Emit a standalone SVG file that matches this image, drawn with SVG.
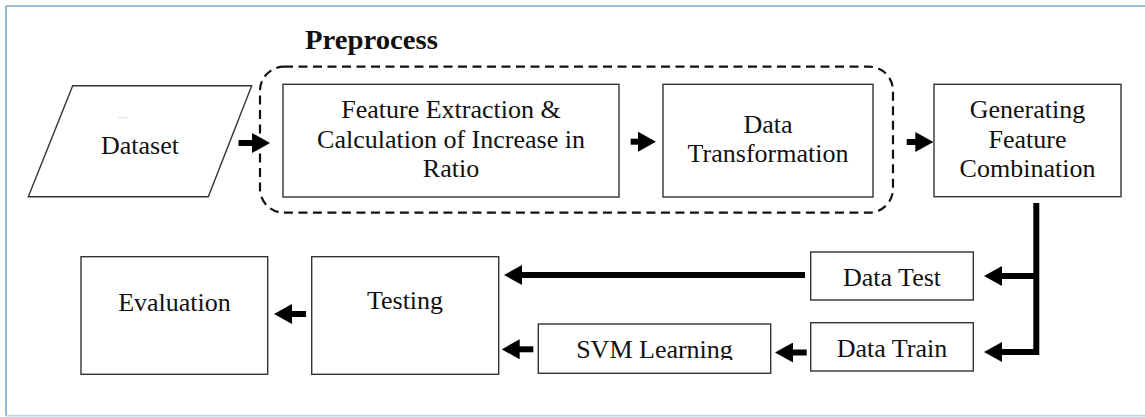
<svg xmlns="http://www.w3.org/2000/svg" width="1145" height="417" viewBox="0 0 1145 417">
<defs>
<style>
.box{fill:#fff;stroke:#333;stroke-width:1.4}
.t{font-family:"Liberation Serif","Times New Roman",serif;font-size:26px;fill:#111;text-anchor:middle}
.tb{font-family:"Liberation Serif","Times New Roman",serif;font-size:27.5px;font-weight:bold;fill:#111}
.c{fill:none;stroke:#000;stroke-width:6}
</style>
<marker id="ah" viewBox="0 0 18 20" refX="8" refY="10" markerWidth="18" markerHeight="20" markerUnits="userSpaceOnUse" orient="auto">
<path d="M0,0 L18,10 L0,20 Z" fill="#000"/>
</marker>
<clipPath id="svmclip"><rect x="538" y="324" width="233" height="36"/></clipPath>
</defs>
<rect width="1145" height="417" fill="#fff"/>
<g id="frame">
<path d="M6,6 H1145 M6,6 V416" fill="none" stroke="#7ea6d8" stroke-width="1.6"/>
<path d="M6,415.8 H1145" fill="none" stroke="#b8cfe9" stroke-width="1.6"/>
</g>
<g id="preprocess">
<rect x="260" y="66.7" width="633" height="146" rx="24" fill="none" stroke="#111" stroke-width="2.2" stroke-dasharray="9,5.5"/>
<text class="tb" x="305" y="48.5" textLength="133" lengthAdjust="spacingAndGlyphs">Preprocess</text>
</g>
<g id="dataset">
<polygon class="box" points="72.7,85.7 251.7,85.7 208.3,196.7 28.3,196.7"/>
<line x1="118" y1="117.7" x2="128" y2="117.7" stroke="#ddd" stroke-width="1"/>
<text class="t" x="140" y="154.3">Dataset</text>
</g>
<g id="feature">
<rect class="box" x="283" y="84.3" width="336" height="112.7"/>
<text class="t" x="451" y="118.3">Feature Extraction &amp;</text>
<text class="t" x="451" y="147.5">Calculation of Increase in</text>
<text class="t" x="451" y="176.7">Ratio</text>
</g>
<g id="transform">
<rect class="box" x="663" y="84.3" width="210" height="112.7"/>
<text class="t" x="768" y="133.3">Data</text>
<text class="t" x="768" y="162.3">Transformation</text>
</g>
<g id="generating">
<rect class="box" x="934" y="84.3" width="187" height="112.4"/>
<text class="t" x="1027.5" y="118.3">Generating</text>
<text class="t" x="1027.5" y="147.5">Feature</text>
<text class="t" x="1027.5" y="176.7">Combination</text>
</g>
<g id="evaluation">
<rect class="box" x="81" y="256.7" width="186.7" height="117.6"/>
<text class="t" x="174.5" y="310.7">Evaluation</text>
</g>
<g id="testing">
<rect class="box" x="311.7" y="256.7" width="187" height="117.6"/>
<text class="t" x="405" y="309.3">Testing</text>
</g>
<g id="svm">
<rect class="box" x="538.3" y="324" width="232.4" height="49.3"/>
<text class="t" x="654.5" y="358.3" clip-path="url(#svmclip)">SVM Learning</text>
</g>
<g id="datatest">
<rect class="box" x="810.7" y="252" width="162.6" height="48"/>
<text class="t" x="892" y="286">Data Test</text>
</g>
<g id="datatrain">
<rect class="box" x="810.7" y="322.7" width="162.6" height="48.3"/>
<text class="t" x="892" y="356.7">Data Train</text>
</g>
<g id="connectors">
<line class="c" x1="238.5" y1="143" x2="260" y2="143" marker-end="url(#ah)"/>
<line class="c" x1="630.7" y1="141.7" x2="646" y2="141.7" marker-end="url(#ah)"/>
<line class="c" x1="906.7" y1="142" x2="923.3" y2="142" marker-end="url(#ah)"/>
<path class="c" d="M1036.3,203 V352 H994" marker-end="url(#ah)"/>
<path class="c" d="M1036.3,276 H994" marker-end="url(#ah)"/>
<line class="c" x1="805" y1="275" x2="514" y2="275" marker-end="url(#ah)"/>
<line class="c" x1="806.7" y1="352.5" x2="785" y2="352.5" marker-end="url(#ah)"/>
<line class="c" x1="533.3" y1="349.3" x2="511.7" y2="349.3" marker-end="url(#ah)"/>
<line class="c" x1="306" y1="314" x2="284" y2="314" marker-end="url(#ah)"/>
</g>
</svg>
